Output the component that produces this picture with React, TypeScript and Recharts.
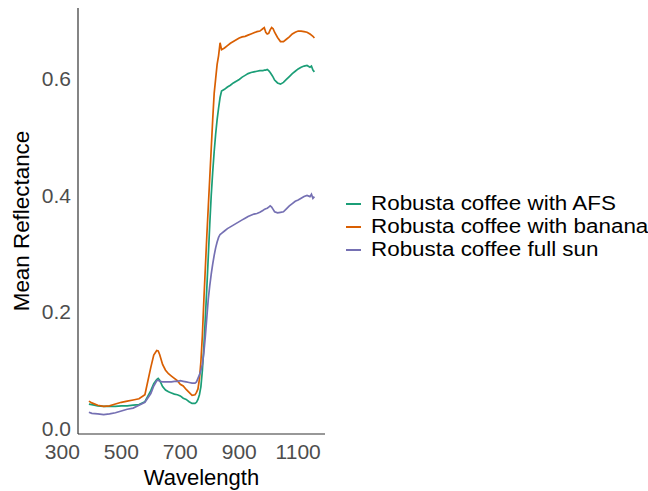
import { LineChart, Line, XAxis, YAxis, Label } from "recharts";

const FONT = "'Liberation Sans', Arial, Helvetica, sans-serif";

// wavelength (nm)
const wavelengths = [
  390, 400, 420, 440, 460, 480, 500, 520, 540, 560, 580, 600, 610, 620, 625, 630, 640, 650, 660, 670,
  680, 690, 700, 710, 720, 730, 740, 750, 755, 760, 765, 770, 775, 780, 785, 790, 795, 800, 805, 810,
  815, 820, 825, 830, 835, 840, 850, 860, 870, 880, 890, 900, 910, 920, 930, 940, 950, 960, 970, 980,
  985, 990, 995, 1000, 1005, 1010, 1015, 1020, 1030, 1040, 1050, 1060, 1070, 1080, 1090, 1100, 1110,
  1120, 1130, 1140, 1145, 1150, 1155,
];

const afs = [
  0.042, 0.041, 0.039, 0.038, 0.038, 0.038, 0.039, 0.039, 0.04, 0.041, 0.046, 0.065, 0.077, 0.084, 0.086,
  0.083, 0.072, 0.066, 0.063, 0.061, 0.059, 0.058, 0.056, 0.052, 0.05, 0.046, 0.043, 0.043, 0.045, 0.05,
  0.058, 0.072, 0.1, 0.14, 0.19, 0.24, 0.295, 0.35, 0.4, 0.44, 0.475, 0.505, 0.53, 0.55, 0.568, 0.579,
  0.582, 0.586, 0.589, 0.593, 0.596, 0.599, 0.603, 0.606, 0.609, 0.611, 0.612, 0.613, 0.614, 0.614,
  0.615, 0.615, 0.616, 0.614, 0.611, 0.607, 0.603, 0.598, 0.593, 0.591, 0.594, 0.599, 0.604, 0.609,
  0.613, 0.617, 0.62, 0.622, 0.623, 0.62, 0.622, 0.615, 0.612,
];

const banana = [
  0.047, 0.044, 0.04, 0.038, 0.039, 0.042, 0.045, 0.047, 0.049, 0.051, 0.058, 0.105, 0.126, 0.134, 0.133,
  0.127, 0.11, 0.1, 0.094, 0.09, 0.086, 0.082, 0.076, 0.073, 0.067, 0.062, 0.057, 0.058, 0.062, 0.068,
  0.085, 0.115, 0.16, 0.22, 0.275, 0.33, 0.38, 0.43, 0.48, 0.53, 0.575, 0.6, 0.625, 0.64, 0.662, 0.65,
  0.653, 0.657, 0.661, 0.664, 0.667, 0.67, 0.672, 0.673, 0.675, 0.677, 0.679, 0.681, 0.682, 0.686,
  0.688, 0.68, 0.677, 0.678, 0.684, 0.688, 0.686, 0.68, 0.671, 0.664, 0.664, 0.668, 0.672, 0.677, 0.68,
  0.682, 0.682, 0.681, 0.68, 0.677, 0.675, 0.673, 0.67,
];

const fullSun = [
  0.028, 0.026, 0.025, 0.024, 0.025, 0.027, 0.03, 0.033, 0.035, 0.04, 0.045, 0.06, 0.073, 0.082, 0.083,
  0.081, 0.08, 0.08, 0.08, 0.08, 0.081, 0.081, 0.082, 0.081, 0.08, 0.079, 0.078, 0.078, 0.08, 0.086,
  0.092, 0.1, 0.11, 0.13, 0.158, 0.19, 0.222, 0.245, 0.265, 0.282, 0.297, 0.31, 0.32, 0.328, 0.333,
  0.335, 0.339, 0.343, 0.346, 0.349, 0.352, 0.355, 0.358, 0.361, 0.364, 0.366, 0.368, 0.369, 0.371,
  0.374, 0.376, 0.377, 0.378, 0.38, 0.382, 0.38, 0.376, 0.372, 0.37, 0.371, 0.372, 0.377, 0.382, 0.386,
  0.39, 0.392, 0.395, 0.398, 0.4, 0.398, 0.402, 0.395, 0.398,
];

const xTicks = [300, 500, 700, 900, 1100];
const yTicks = [0, 0.2, 0.4, 0.6];

const series = [
  { key: "afs", name: "Robusta coffee with AFS", color: "#1B9E77" },
  { key: "banana", name: "Robusta coffee with banana", color: "#D95F02" },
  { key: "fullSun", name: "Robusta coffee full sun", color: "#7570B3" },
];

const data = wavelengths.map((w, i) => ({
  w,
  afs: afs[i],
  banana: banana[i],
  fullSun: fullSun[i],
}));

export default function App() {
  return (
    <div style={{ position: "absolute", left: 0, top: 0, width: 648, height: 491, background: "#fff", overflow: "hidden" }}>
      <LineChart width={648} height={491} data={data} margin={{ top: 8, right: 323, bottom: 0, left: 0 }}>
        <XAxis
          dataKey="w"
          type="number"
          domain={[353, 1191]}
          allowDataOverflow
          ticks={xTicks}
          interval={0}
          tickLine={false}
          axisLine={{ stroke: "#333", strokeWidth: 1.2 }}
          tick={{ fill: "#4D4D4D", fontSize: 21, fontFamily: FONT }}
          height={57}
          tickMargin={4}
        >
          <Label value="Wavelength" position="insideBottom" offset={6} style={{ fill: "#000", fontSize: 22, fontFamily: FONT }} />
        </XAxis>
        <YAxis
          type="number"
          domain={[-0.0094, 0.7216]}
          allowDataOverflow
          ticks={yTicks}
          interval={0}
          tickFormatter={(v: number) => v.toFixed(1)}
          tickLine={false}
          axisLine={{ stroke: "#333", strokeWidth: 1.2 }}
          tick={{ fill: "#4D4D4D", fontSize: 21, fontFamily: FONT }}
          width={78}
          tickMargin={1}
        >
          <Label
            value="Mean Reflectance"
            angle={-90}
            position="insideLeft"
            offset={21}
            style={{ fill: "#000", fontSize: 22.4, fontFamily: FONT, textAnchor: "middle" }}
          />
        </YAxis>
        {series.map((s) => (
          <Line
            key={s.key}
            dataKey={s.key}
            name={s.name}
            stroke={s.color}
            strokeWidth={1.7}
            dot={false}
            type="linear"
            isAnimationActive={false}
          />
        ))}
      </LineChart>
      <div style={{ position: "absolute", left: 346, top: 192, fontFamily: FONT, fontSize: 20, color: "#000" }}>
        {series.map((s) => (
          <div key={s.key} style={{ display: "flex", alignItems: "center", height: 23, lineHeight: "23px", whiteSpace: "nowrap" }}>
            <div style={{ width: 15, height: 2, background: s.color, marginRight: 10, marginTop: 1 }} />
            <span style={{ display: "inline-block", transform: "scaleX(1.12)", transformOrigin: "left center" }}>{s.name}</span>
          </div>
        ))}
      </div>
    </div>
  );
}
